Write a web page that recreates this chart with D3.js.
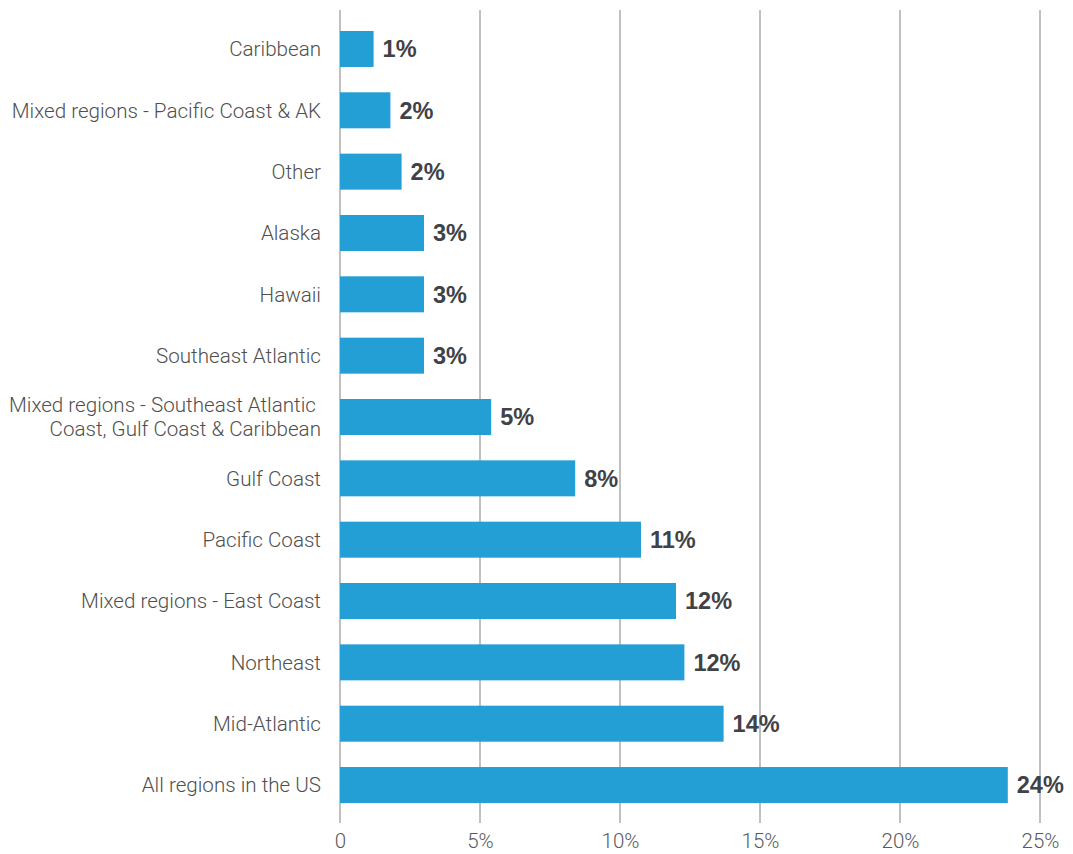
<!DOCTYPE html>
<html>
<head>
<meta charset="utf-8">
<script src="https://cdn.jsdelivr.net/npm/d3@7"></script>
<style>
  html, body { margin: 0; padding: 0; background: #fff; }
  svg { display: block; }
</style>
</head>
<body>
<svg id="chart" width="1073" height="854"></svg>
<script>
// Regions, top to bottom
const categories = [
  "Caribbean",
  "Mixed regions - Pacific Coast & AK",
  "Other",
  "Alaska",
  "Hawaii",
  "Southeast Atlantic",
  "Mixed regions - Southeast Atlantic\u00a0|Coast, Gulf Coast & Caribbean",
  "Gulf Coast",
  "Pacific Coast",
  "Mixed regions - East Coast",
  "Northeast",
  "Mid-Atlantic",
  "All regions in the US"
];
// Share of respondents, percent
const values = [1.2, 1.8, 2.2, 3.0, 3.0, 3.0, 5.4, 8.4, 10.75, 12.0, 12.3, 13.7, 23.85];
// Axis ticks, percent
const tickValues = [0, 5, 10, 15, 20, 25];

const svg = d3.select("#chart");
const x0 = 340, x1 = 1040;
const gridTop = 10, gridBottom = 823;

const x = d3.scaleLinear().domain([0, 25]).range([x0, x1]);
const y = d3.scaleBand()
  .domain(categories)
  .range([18.3, 815.7])
  .paddingInner(0.413)
  .paddingOuter(0.2065);

// Vertical grid lines
svg.append("g")
  .selectAll("line")
  .data(tickValues)
  .join("line")
  .attr("x1", d => x(d)).attr("x2", d => x(d))
  .attr("y1", gridTop).attr("y2", gridBottom)
  .attr("stroke", "#ababab")
  .attr("stroke-width", 1.5);

// Axis tick labels
const xAxis = d3.axisBottom(x)
  .tickValues(tickValues)
  .tickSize(0)
  .tickPadding(0)
  .tickFormat(d => d === 0 ? "0" : d + "%");
const ax = svg.append("g")
  .attr("transform", `translate(0,${gridBottom})`)
  .call(xAxis);
ax.select(".domain").remove();
ax.selectAll("text")
  .attr("y", 25)
  .attr("dy", 0)
  .attr("font-family", "Roboto, 'Liberation Sans', sans-serif")
  .attr("font-weight", 300)
  .attr("font-size", 20.5)
  .attr("fill", "#5a5a5a");

// Bars
svg.append("g")
  .selectAll("rect")
  .data(values)
  .join("rect")
  .attr("x", x(0))
  .attr("y", (d, i) => y(categories[i]))
  .attr("width", d => x(d) - x(0))
  .attr("height", y.bandwidth())
  .attr("fill", "#239fd6");

// Value labels
svg.append("g")
  .selectAll("text")
  .data(values)
  .join("text")
  .attr("x", d => x(d) + 9)
  .attr("y", (d, i) => y(categories[i]) + y.bandwidth() / 2)
  .attr("dy", "0.36em")
  .attr("font-family", "'Liberation Sans', Arial, sans-serif")
  .attr("font-weight", 700)
  .attr("font-size", 23.5)
  .attr("fill", "#3f4246")
  .text(d => d3.format(".0f")(d) + "%");

// Category labels (a "|" splits a label over two lines)
const catSize = 20.6;
const cat = svg.append("g")
  .selectAll("text")
  .data(categories)
  .join("text")
  .attr("x", 321)
  .attr("y", d => y(d) + y.bandwidth() / 2)
  .attr("text-anchor", "end")
  .attr("font-family", "Roboto, 'Liberation Sans', sans-serif")
  .attr("font-weight", 300)
  .attr("font-size", catSize)
  .attr("fill", "#4f4f4f")
  .style("white-space", "pre");

cat.each(function(d) {
  const lines = d.split("|");
  const t = d3.select(this);
  const lh = 24;
  lines.forEach((ln, k) => {
    t.append("tspan")
      .attr("x", 321)
      .attr("dy", k === 0 ? (0.36 * catSize - (lines.length - 1) * lh / 2) : lh)
      .text(ln);
  });
});
</script>
</body>
</html>
